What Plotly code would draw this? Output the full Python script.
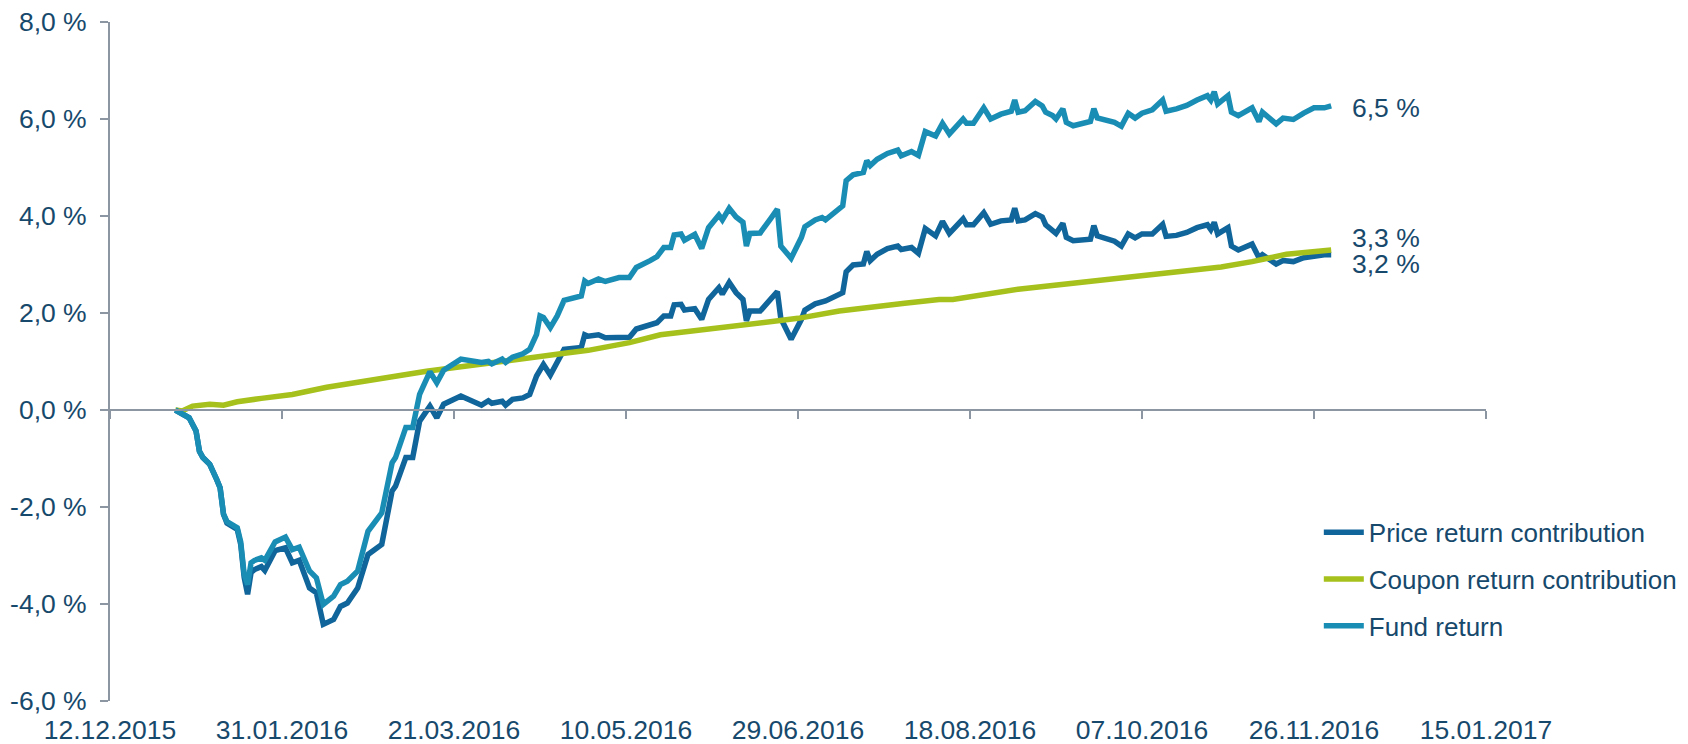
import plotly.graph_objects as go

# ---------------- data ----------------
dates = ["2015-12-31","2016-01-04","2016-01-06","2016-01-07","2016-01-08","2016-01-10","2016-01-12","2016-01-13",
 "2016-01-14","2016-01-15","2016-01-18","2016-01-19","2016-01-20","2016-01-21","2016-01-22","2016-01-23","2016-01-25",
 "2016-01-26","2016-01-29","2016-02-01","2016-02-03","2016-02-05","2016-02-08","2016-02-10","2016-02-12","2016-02-15",
 "2016-02-17","2016-02-19","2016-02-22","2016-02-25","2016-02-29","2016-03-03","2016-03-04","2016-03-07","2016-03-09",
 "2016-03-11","2016-03-14","2016-03-16","2016-03-18","2016-03-23","2016-03-29","2016-03-31","2016-04-01","2016-04-04",
 "2016-04-05","2016-04-07","2016-04-10","2016-04-12","2016-04-14","2016-04-15","2016-04-16","2016-04-18","2016-04-20",
 "2016-04-22","2016-04-27","2016-04-28","2016-04-29","2016-05-02","2016-05-04","2016-05-08","2016-05-11","2016-05-13",
 "2016-05-17","2016-05-19","2016-05-21","2016-05-23","2016-05-24","2016-05-26","2016-05-27","2016-05-30","2016-06-01",
 "2016-06-03","2016-06-06","2016-06-07","2016-06-09","2016-06-11","2016-06-13","2016-06-14","2016-06-15","2016-06-18",
 "2016-06-21","2016-06-23","2016-06-24","2016-06-27","2016-06-30","2016-07-01","2016-07-04","2016-07-06","2016-07-07",
 "2016-07-12","2016-07-13","2016-07-15","2016-07-18","2016-07-19","2016-07-20","2016-07-22","2016-07-25","2016-07-28",
 "2016-07-29","2016-08-01","2016-08-03","2016-08-05","2016-08-08","2016-08-10","2016-08-12","2016-08-16","2016-08-17",
 "2016-08-19","2016-08-22","2016-08-24","2016-08-27","2016-08-30","2016-08-31","2016-09-01","2016-09-03","2016-09-06",
 "2016-09-08","2016-09-09","2016-09-11","2016-09-12","2016-09-14","2016-09-15","2016-09-17","2016-09-22","2016-09-23",
 "2016-09-24","2016-09-29","2016-10-01","2016-10-03","2016-10-05","2016-10-07","2016-10-10","2016-10-13","2016-10-14",
 "2016-10-17","2016-10-20","2016-10-23","2016-10-26","2016-10-27","2016-10-28","2016-10-29","2016-11-01","2016-11-02",
 "2016-11-04","2016-11-08","2016-11-10","2016-11-11","2016-11-15","2016-11-17","2016-11-20","2016-11-23","2016-11-26",
 "2016-11-29","2016-12-01"]

price_return = [0.00,-0.16,-0.43,-0.85,-0.98,-1.12,-1.43,-1.60,
 -2.15,-2.33,-2.46,-2.77,-3.45,-3.80,-3.35,-3.29,-3.23,
 -3.31,-2.90,-2.84,-3.15,-3.10,-3.67,-3.77,-4.42,-4.32,
 -4.05,-3.98,-3.67,-2.98,-2.77,-1.67,-1.57,-0.98,-0.98,
 -0.23,0.08,-0.16,0.12,0.29,0.10,0.19,0.14,0.18,
 0.10,0.22,0.25,0.32,0.70,0.85,0.94,0.72,0.96,
 1.25,1.29,1.55,1.52,1.55,1.49,1.50,1.50,1.67,
 1.75,1.80,1.94,1.94,2.17,2.18,2.06,2.09,1.87,
 2.28,2.52,2.39,2.63,2.42,2.28,1.84,2.04,2.04,
 2.28,2.44,1.89,1.46,1.87,2.06,2.19,2.22,2.25,
 2.42,2.85,2.99,3.01,3.27,3.08,3.21,3.33,3.38,
 3.31,3.35,3.23,3.74,3.59,3.89,3.64,3.94,3.82,
 3.82,4.07,3.83,3.90,3.92,4.16,3.90,3.92,4.05,
 3.98,3.82,3.72,3.64,3.85,3.56,3.49,3.52,3.80,
 3.59,3.48,3.38,3.63,3.55,3.63,3.63,3.83,3.58,
 3.60,3.66,3.76,3.82,3.72,3.87,3.63,3.76,3.38,
 3.30,3.42,3.14,3.20,3.01,3.08,3.06,3.14,3.18,
 3.20,3.20]

fund_return = [0.00,-0.16,-0.43,-0.85,-0.98,-1.12,-1.43,-1.60,
 -2.15,-2.30,-2.43,-2.72,-3.39,-3.60,-3.15,-3.10,-3.05,
 -3.10,-2.72,-2.62,-2.88,-2.83,-3.32,-3.46,-4.01,-3.84,
 -3.60,-3.53,-3.32,-2.50,-2.12,-1.09,-0.98,-0.36,-0.36,
 0.32,0.79,0.56,0.82,1.05,0.98,1.00,0.95,1.05,
 0.98,1.09,1.16,1.25,1.56,1.94,1.91,1.70,1.94,
 2.26,2.35,2.66,2.61,2.70,2.65,2.73,2.73,2.94,
 3.08,3.16,3.35,3.35,3.61,3.63,3.50,3.62,3.33,
 3.76,4.02,3.92,4.16,3.98,3.87,3.38,3.64,3.65,
 3.94,4.14,3.38,3.13,3.56,3.78,3.92,3.97,3.92,
 4.21,4.73,4.85,4.90,5.14,5.04,5.17,5.29,5.36,
 5.24,5.33,5.25,5.74,5.65,5.91,5.69,6.00,5.91,
 5.91,6.23,6.00,6.10,6.16,6.39,6.14,6.17,6.36,
 6.27,6.14,6.07,6.00,6.21,5.93,5.86,5.95,6.21,
 6.02,5.93,5.85,6.12,6.02,6.12,6.19,6.39,6.16,
 6.21,6.28,6.39,6.48,6.39,6.56,6.31,6.48,6.14,
 6.07,6.23,5.95,6.14,5.90,6.02,5.99,6.12,6.23,
 6.23,6.27]

coupon_dates = ["2015-12-31","2016-01-02","2016-01-05","2016-01-10","2016-01-14","2016-01-18","2016-01-25",
 "2016-02-03","2016-02-13","2016-02-23","2016-03-03","2016-03-13","2016-03-23","2016-04-01","2016-04-11",
 "2016-04-21","2016-04-29","2016-05-11","2016-05-20","2016-05-31","2016-06-12","2016-06-24","2016-06-29",
 "2016-07-11","2016-07-21","2016-07-30","2016-08-09","2016-08-13","2016-09-01","2016-09-21","2016-10-10",
 "2016-10-30","2016-11-08","2016-11-18","2016-12-01"]
coupon_return = [0.00,-0.02,0.08,0.12,0.10,0.17,0.24,
 0.32,0.47,0.58,0.70,0.80,0.89,0.98,1.07,
 1.16,1.23,1.39,1.55,1.64,1.75,1.85,1.89,
 2.04,2.11,2.20,2.28,2.28,2.49,2.65,2.79,
 2.95,3.06,3.21,3.30]

series_names = ["Price return contribution", "Coupon return contribution", "Fund return"]
end_labels = ["3,2 %", "3,3 %", "6,5 %"]

x_tick_vals = ["2015-12-12","2016-01-31","2016-03-21","2016-05-10","2016-06-29",
               "2016-08-18","2016-10-07","2016-11-26","2017-01-15"]
x_tick_text = ["12.12.2015","31.01.2016","21.03.2016","10.05.2016","29.06.2016",
               "18.08.2016","07.10.2016","26.11.2016","15.01.2017"]
y_tick_vals = [-6, -4, -2, 0, 2, 4, 6, 8]
y_tick_text = ["-6,0 %","-4,0 %","-2,0 %","0,0 %","2,0 %","4,0 %","6,0 %","8,0 %"]

# ---------------- style ----------------
C_PRICE = "#10659A"
C_COUPON = "#A6C11C"
C_FUND = "#1A8DB5"
C_TEXT = "#17496C"
C_AXIS = "#8C96A3"
FONT = "Liberation Sans, Arial, sans-serif"
FS = 26.5
LW = 5.5

fig = go.Figure()
fig.add_trace(go.Scatter(x=dates, y=price_return, mode="lines", name=series_names[0],
                         line=dict(color=C_PRICE, width=LW), legendgroup="a"))
fig.add_trace(go.Scatter(x=coupon_dates, y=coupon_return, mode="lines", name=series_names[1],
                         line=dict(color=C_COUPON, width=LW), legendgroup="b"))
fig.add_trace(go.Scatter(x=dates, y=fund_return, mode="lines", name=series_names[2],
                         line=dict(color=C_FUND, width=LW), legendgroup="c"))
# helper trace so the zero-line axis (with its tick marks) is rendered
fig.add_trace(go.Scatter(x=[dates[0]], y=[None], xaxis="x2", yaxis="y", mode="lines",
                         showlegend=False, hoverinfo="skip"))

# end-of-line labels
lab_font = dict(family=FONT, size=FS, color=C_TEXT)
fig.add_annotation(x=dates[-1], y=price_return[-1], text=end_labels[0], showarrow=False,
                   xanchor="left", yanchor="middle", xshift=19, yshift=-9, font=lab_font)
fig.add_annotation(x=coupon_dates[-1], y=coupon_return[-1], text=end_labels[1], showarrow=False,
                   xanchor="left", yanchor="middle", xshift=19, yshift=12, font=lab_font)
fig.add_annotation(x=dates[-1], y=fund_return[-1], text=end_labels[2], showarrow=False,
                   xanchor="left", yanchor="middle", xshift=19, yshift=-2, font=lab_font)

x_range = [x_tick_vals[0], x_tick_vals[-1]]
zero_pos = (0 - y_tick_vals[0]) / (y_tick_vals[-1] - y_tick_vals[0])

# the page body adds an 8px offset, so the figure is 8px smaller and margins compensate
fig.update_layout(
    width=1680, height=736,
    margin=dict(l=102, r=202, t=14, b=43, pad=0, autoexpand=False),
    paper_bgcolor="white", plot_bgcolor="white",
    font=dict(family=FONT, size=FS, color=C_TEXT),
    showlegend=True,
    legend=dict(x=0.8785, xanchor="left", y=0.283, yanchor="top",
                bgcolor="rgba(0,0,0,0)", font=dict(family=FONT, size=26, color=C_TEXT),
                tracegroupgap=10, itemwidth=40),
    xaxis=dict(type="date", range=x_range, tickvals=x_tick_vals, ticktext=x_tick_text,
               showgrid=False, zeroline=False, showline=False, ticks="",
               tickfont=dict(family=FONT, size=FS, color=C_TEXT), ticklabelstandoff=10,
               ticklabeloverflow="allow", automargin=False, fixedrange=True),
    xaxis2=dict(type="date", range=x_range, tickvals=x_tick_vals, overlaying="x",
                anchor="free", position=zero_pos, side="bottom",
                showgrid=False, zeroline=False, showline=True, linecolor=C_AXIS, linewidth=2,
                ticks="outside", ticklen=8, tickwidth=2, tickcolor=C_AXIS,
                showticklabels=False, automargin=False),
    yaxis=dict(range=[y_tick_vals[0], y_tick_vals[-1]], tickvals=y_tick_vals, ticktext=y_tick_text,
               showgrid=False, zeroline=False, showline=True, linecolor=C_AXIS, linewidth=2,
               ticks="outside", ticklen=8, tickwidth=2, tickcolor=C_AXIS,
               tickfont=dict(family=FONT, size=FS, color=C_TEXT), ticklabelstandoff=8,
               ticklabeloverflow="allow", automargin=False),
)

fig.write_html("out.html")
